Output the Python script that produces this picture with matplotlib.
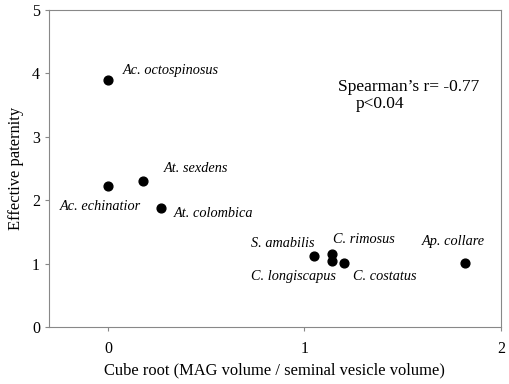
import matplotlib
matplotlib.use("Agg")
import matplotlib.pyplot as plt

species = ["Ac. octospinosus", "Ac. echinatior", "At. sexdens", "At. colombica",
           "S. amabilis", "C. rimosus", "C. longiscapus", "C. costatus", "Ap. collare"]
mag_cuberoot = [0.0, 0.0, 0.18, 0.27, 1.05, 1.14, 1.14, 1.20, 1.82]
paternity = [3.90, 2.22, 2.30, 1.88, 1.12, 1.15, 1.04, 1.01, 1.01]
# label offsets in pixels (left edge, vertical centre) from the dot
label_offsets = [(15, 9), (-48, -20), (21, 13), (13, -6),
                 (-63, 13), (1, 15), (-81, -15), (9, -13), (-44, 22)]

plt.rcParams['font.family'] = ['Liberation Serif', 'DejaVu Serif']

fig = plt.figure(figsize=(5.1, 3.84), dpi=100)
ax = fig.add_axes([0.096, 0.148, 0.886, 0.826])

ax.scatter(mag_cuberoot, paternity, s=40, color="black", zorder=3)

for name, x, y, (dx, dy) in zip(species, mag_cuberoot, paternity, label_offsets):
    ax.annotate(name, (x, y), xytext=(dx * 0.72, dy * 0.72), textcoords="offset points",
                ha="left", va="center", fontsize=10.3, style="italic")

ax.text(1.173, 3.79, "Spearman\u2019s r= -0.77", fontsize=12.5, va="center")
ax.text(1.264, 3.52, "p<0.04", fontsize=12.5, va="center")

ax.set_xlim(-0.3, 2)
ax.set_ylim(0, 5)
ax.set_xticks([0, 1, 2])
ax.set_yticks([0, 1, 2, 3, 4, 5])
ax.set_xlabel("Cube root (MAG volume / seminal vesicle volume)", fontsize=11.9, labelpad=4)
ax.set_ylabel("Effective paternity", fontsize=11.9, labelpad=6)
ax.tick_params(labelsize=11.5, length=3, color="#888888")
ax.tick_params(axis="x", pad=7)
for sp in ax.spines.values():
    sp.set_color("#888888")

fig.savefig("out.png", dpi=100)
